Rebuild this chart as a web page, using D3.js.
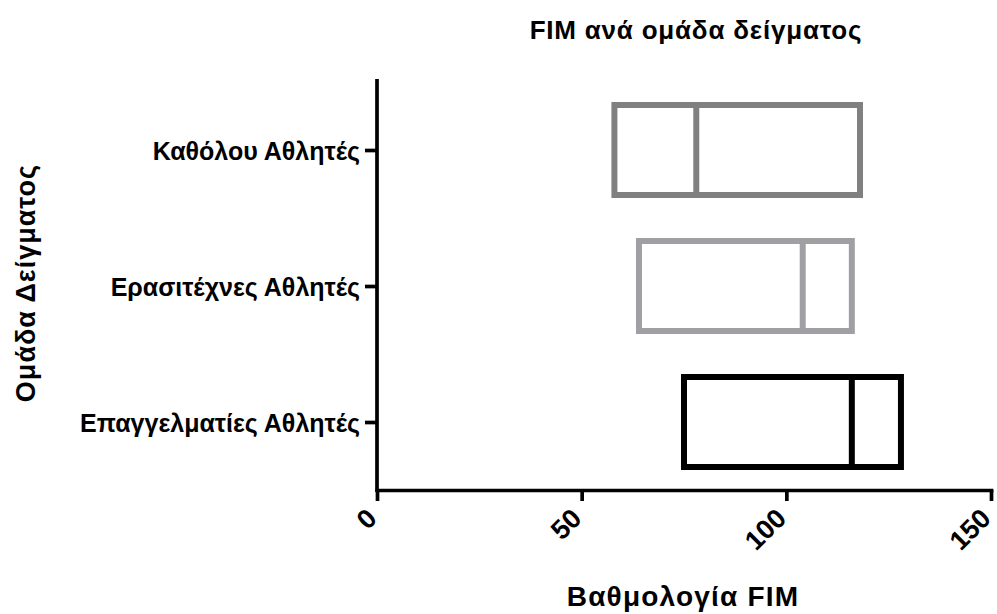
<!DOCTYPE html>
<html>
<head>
<meta charset="utf-8">
<script src="https://cdn.jsdelivr.net/npm/d3@7"></script>
<style>
  html, body { margin: 0; padding: 0; background: #fff; }
  svg { display: block; }
  text { font-family: "Liberation Sans", Arial, sans-serif; font-weight: bold; fill: #000; }
</style>
</head>
<body>
<svg id="chart" width="997" height="614"></svg>
<script>
// Sample groups and their FIM score summaries (minimum, median, maximum)
const categories = ["Καθόλου Αθλητές", "Ερασιτέχνες Αθλητές", "Επαγγελματίες Αθλητές"];
const minValues = [58, 64, 75];
const medianValues = [78, 104, 116];
const maxValues = [118, 116, 128];
const xTickValues = [0, 50, 100, 150];

const chartTitle = "FIM ανά ομάδα δείγματος";
const xTitle = "Βαθμολογία FIM";
const yTitle = "Ομάδα Δείγματος";

const rows = categories.map((c, i) => ({
  cat: c, min: minValues[i], med: medianValues[i], max: maxValues[i]
}));

const svg = d3.select("#chart");

const x = d3.scaleLinear().domain([0, 150]).range([377, 991]);
const y = d3.scalePoint().domain(categories).range([82, 490]).padding(0.5);
const boxH = 90;
const color = d3.scaleOrdinal().domain(categories).range(["#808080", "#a0a0a4", "#000000"]);

// Floating boxes: min..max with a median divider
const boxes = svg.append("g").selectAll("g").data(rows).join("g");
boxes.append("rect")
  .attr("x", d => x(d.min))
  .attr("y", d => y(d.cat) - boxH / 2)
  .attr("width", d => x(d.max) - x(d.min))
  .attr("height", boxH)
  .attr("fill", "none")
  .attr("stroke", d => color(d.cat))
  .attr("stroke-width", 6);
boxes.append("line")
  .attr("x1", d => x(d.med)).attr("x2", d => x(d.med))
  .attr("y1", d => y(d.cat) - boxH / 2)
  .attr("y2", d => y(d.cat) + boxH / 2)
  .attr("stroke", d => color(d.cat))
  .attr("stroke-width", 6);

// Y axis
const yAxis = svg.append("g")
  .attr("transform", `translate(${x(0)},0)`)
  .call(d3.axisLeft(y).tickSize(12).tickSizeOuter(0).tickPadding(5));
yAxis.select(".domain").remove();
yAxis.selectAll(".tick line").attr("stroke", "#000").attr("stroke-width", 3.7);
yAxis.selectAll(".tick text").style("font-size", "25px").attr("dy", "0.36em");
svg.append("line")
  .attr("x1", x(0)).attr("x2", x(0))
  .attr("y1", 79).attr("y2", 492)
  .attr("stroke", "#000").attr("stroke-width", 3.7);

// X axis
const xAxis = svg.append("g")
  .attr("transform", "translate(0,490)")
  .call(d3.axisBottom(x).tickValues(xTickValues).tickSize(11).tickSizeOuter(0));
xAxis.select(".domain").attr("stroke", "#000").attr("stroke-width", 3.7).attr("stroke-linecap", "square");
xAxis.selectAll(".tick line").attr("stroke", "#000").attr("stroke-width", 3.7);
xAxis.selectAll(".tick text")
  .style("font-size", "27px")
  .attr("text-anchor", "end")
  .attr("y", 0).attr("dy", 0)
  .attr("transform", "translate(1,30) rotate(-45)");

// Titles
svg.append("text")
  .attr("x", 696).attr("y", 39)
  .attr("text-anchor", "middle")
  .style("font-size", "26px")
  .style("letter-spacing", "0.8px")
  .text(chartTitle);
svg.append("text")
  .attr("x", 683).attr("y", 606)
  .attr("text-anchor", "middle")
  .style("font-size", "28px")
  .style("letter-spacing", "1.2px")
  .text(xTitle);
svg.append("text")
  .attr("transform", "translate(35,283) rotate(-90)")
  .attr("text-anchor", "middle")
  .style("font-size", "27px")
  .style("letter-spacing", "1px")
  .text(yTitle);
</script>
</body>
</html>
